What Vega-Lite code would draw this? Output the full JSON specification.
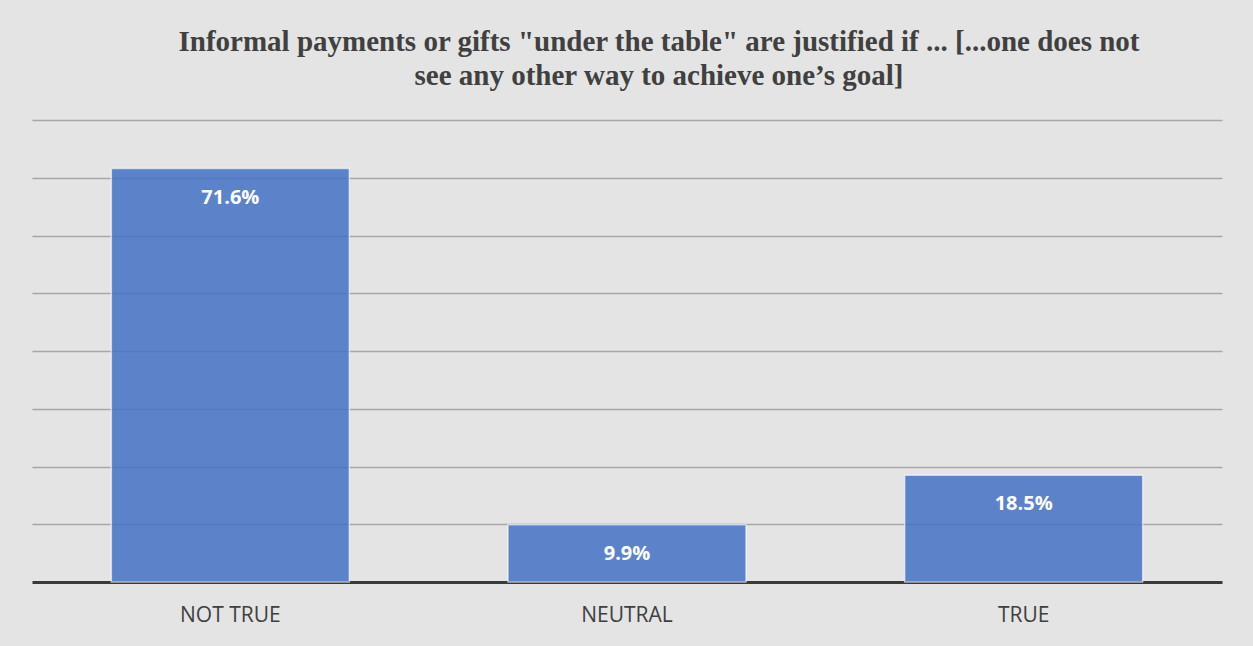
{
  "$schema": "https://vega.github.io/schema/vega-lite/v6.json",
  "width": 1190,
  "height": 462,
  "autosize": "none",
  "padding": {"left": 32, "top": 120, "right": 31, "bottom": 64},
  "background": "#e4e4e4",
  "config": {"view": {"stroke": null}},
  "title": {
    "text": ["Informal payments or gifts \"under the table\" are justified if ... [...one does not", "see any other way to achieve one’s goal]"],
    "font": "Liberation Serif",
    "fontSize": 29,
    "fontWeight": "bold",
    "color": "#404040",
    "anchor": "middle",
    "dx": 32,
    "offset": 29,
    "lineHeight": 34
  },
  "data": {
    "values": [
      {"response": "NOT TRUE", "share": 0.716},
      {"response": "NEUTRAL", "share": 0.099},
      {"response": "TRUE", "share": 0.185}
    ]
  },
  "encoding": {
    "x": {
      "field": "response",
      "type": "nominal",
      "sort": null,
      "scale": {"paddingInner": 0.4, "paddingOuter": 0.2},
      "axis": {
        "title": null,
        "labelAngle": 0,
        "labelFont": "Open Sans",
        "labelFontSize": 21,
        "labelColor": "#404040",
        "labelPadding": 22,
        "ticks": false,
        "tickSize": 0,
        "domainColor": "#3a3a3a",
        "domainWidth": 3,
        "grid": false
      }
    },
    "y": {
      "field": "share",
      "type": "quantitative",
      "scale": {"domain": [0, 0.8]},
      "axis": {
        "title": null,
        "labels": false,
        "ticks": false,
        "domain": false,
        "values": [0.1, 0.2, 0.3, 0.4, 0.5, 0.6, 0.7, 0.8],
        "gridColor": "#a6a6a6",
        "gridWidth": 1.5
      }
    }
  },
  "layer": [
    {
      "mark": {
        "type": "bar",
        "fill": "#4472C4",
        "fillOpacity": 0.85,
        "stroke": "#ffffff",
        "strokeOpacity": 0.6,
        "strokeWidth": 1.5
      }
    },
    {
      "mark": {
        "type": "text",
        "font": "Open Sans",
        "fontSize": 20,
        "fontWeight": "bold",
        "color": "#ffffff",
        "baseline": "alphabetic",
        "dy": 35
      },
      "encoding": {
        "text": {"field": "share", "type": "quantitative", "format": ".1%"}
      }
    }
  ]
}
